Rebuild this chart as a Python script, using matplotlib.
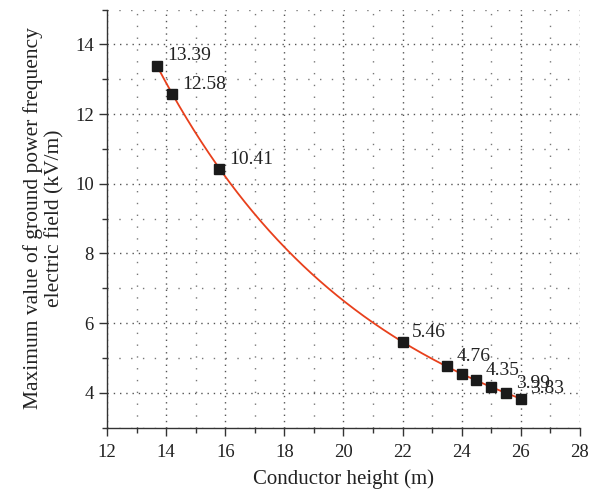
import matplotlib
matplotlib.use("Agg")
import matplotlib.pyplot as plt
from matplotlib.ticker import MultipleLocator
import numpy as np

plt.rcParams['font.family'] = ['Liberation Serif', 'DejaVu Serif']

# conductor height (m) and max ground field (kV/m)
height = [13.7, 14.2, 15.8, 22.0, 23.5, 24.0, 24.5, 25.0, 25.5, 26.0]
field = [13.39, 12.58, 10.41, 5.46, 4.76, 4.55, 4.35, 4.15, 3.99, 3.83]
labeled = [13.39, 12.58, 10.41, 5.46, 4.76, 4.35, 3.99, 3.83]

x = np.array(height)
y = np.array(field)

# smooth fitted curve through the points
coef = np.polyfit(x, np.log(y), 2)
xs = np.linspace(x.min(), x.max(), 300)
ys = np.exp(np.polyval(coef, xs))

fig = plt.figure(figsize=(6.02, 5.0), dpi=100)
ax = fig.add_axes([0.178, 0.145, 0.785, 0.836])

ax.plot(xs, ys, color='#e8401c', lw=1.3, zorder=3)
ax.plot(x, y, 's', color='#1a1a1a', ms=7, zorder=4)

for xi, yi in zip(height, field):
    if yi in labeled:
        ax.annotate('%.2f' % yi, (xi, yi), xytext=(7, 7), textcoords='offset points',
                    ha='left', va='center', fontsize=14, color='#222222', zorder=5)

ax.set_xlim(12, 28)
ax.set_ylim(3, 15)
ax.xaxis.set_major_locator(MultipleLocator(2))
ax.xaxis.set_minor_locator(MultipleLocator(1))
ax.yaxis.set_major_locator(MultipleLocator(2))
ax.yaxis.set_minor_locator(MultipleLocator(1))
ax.set_yticks([4, 6, 8, 10, 12, 14])

ax.grid(which='major', color='#555555', linestyle=(0, (1, 3.5)), lw=1.0)
ax.grid(which='minor', color='#777777', linestyle=(0, (1, 7.5)), lw=1.0)

for s in ['top', 'right']:
    ax.spines[s].set_visible(False)
for s in ['left', 'bottom']:
    ax.spines[s].set_color('#333333')
    ax.spines[s].set_linewidth(1.0)

ax.tick_params(which='major', direction='out', length=6, width=1.0, color='#333333',
               labelsize=13.5, labelcolor='#222222')
ax.tick_params(axis='x', which='major', pad=6)
ax.tick_params(which='minor', direction='out', length=3.5, width=1.0, color='#333333')

ax.set_xlabel('Conductor height (m)', fontsize=15, color='#222222', labelpad=6)
ax.set_ylabel('Maximum value of ground power frequency\nelectric field (kV/m)',
              fontsize=15.5, color='#222222', linespacing=1.1, labelpad=8)

fig.savefig('out.png', dpi=100)
